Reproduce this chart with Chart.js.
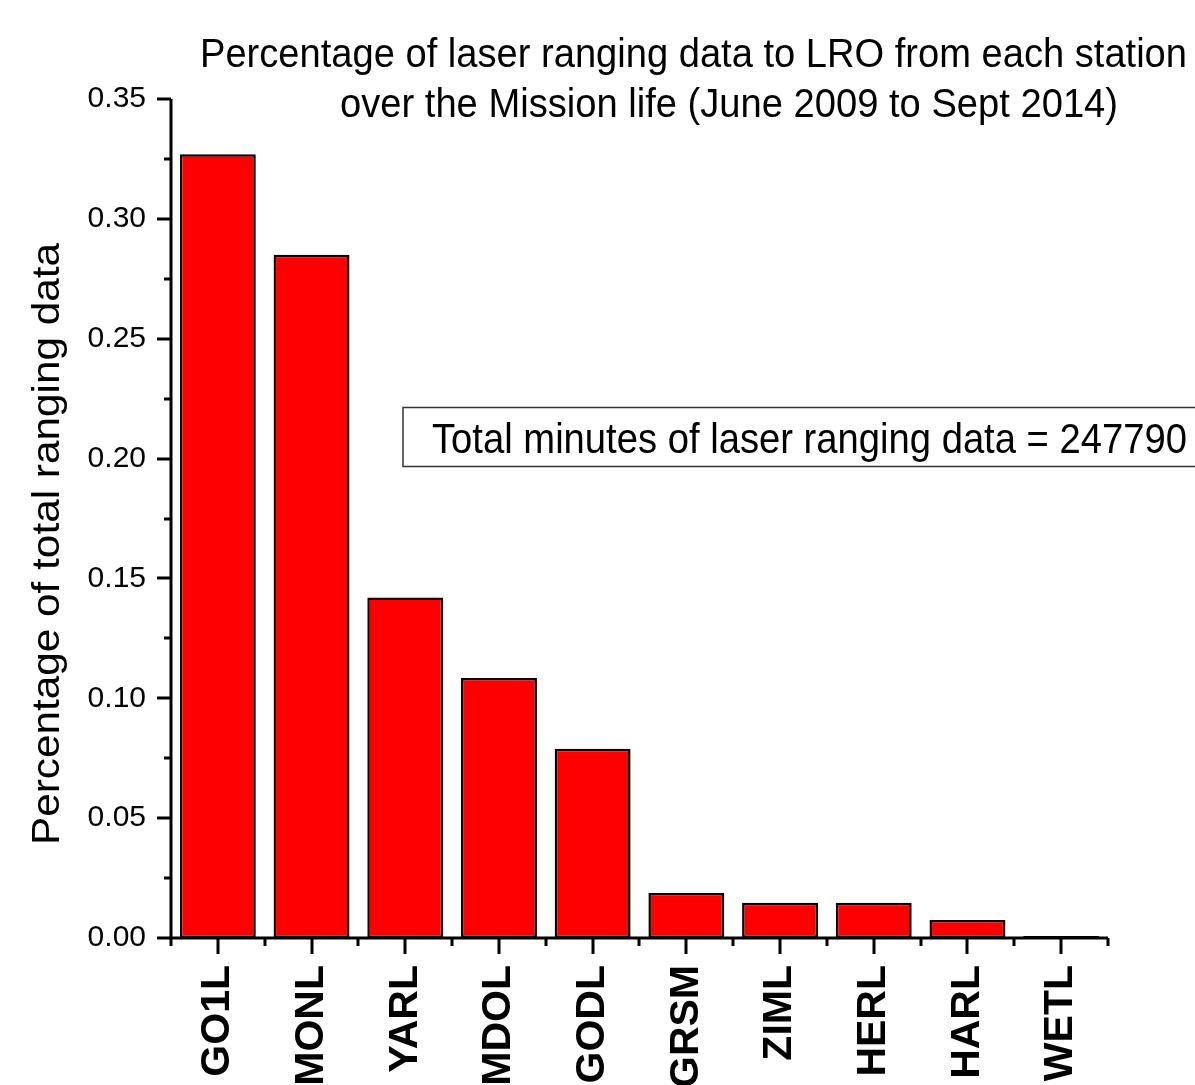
<!DOCTYPE html>
<html>
<head>
<meta charset="utf-8">
<script src="https://cdn.jsdelivr.net/npm/chart.js@4.4.1/dist/chart.umd.min.js"></script>
<style>
    html, body { margin: 0; padding: 0; background: #fff; }
    #wrap { width: 1195px; height: 1085px; position: relative; }
</style>
</head>
<body>
<div id="wrap"><canvas id="myChart"></canvas></div>
<script>
// data
var stations = ['GO1L', 'MONL', 'YARL', 'MDOL', 'GODL', 'GRSM', 'ZIML', 'HERL', 'HARL', 'WETL'];
var shares = [0.327, 0.285, 0.142, 0.1085, 0.079, 0.0188, 0.0147, 0.0147, 0.0075, 0.0008];
var yMin = 0, yMax = 0.35, yStep = 0.05;
var titleLines = ['Percentage of laser ranging data to LRO from each station',
                  'over the Mission life (June 2009 to Sept 2014)'];
var yTitle = 'Percentage of total ranging data';
var noteText = 'Total minutes of laser ranging data = 247790';

var FONT = '"Liberation Sans Narrow", "Arial Narrow", "Liberation Sans", Arial, sans-serif';

// text squeezed to the width it has in the picture
function fitText(ctx, txt, x, y, w, size) {
    ctx.save();
    ctx.font = size + 'px ' + FONT;
    var m = ctx.measureText(txt).width;
    ctx.translate(x, y);
    ctx.scale(w / m, 1);
    ctx.fillText(txt, 0, 0);
    ctx.restore();
}

var extras = {
    id: 'extras',
    afterDraw: function (chart) {
        var ctx = chart.ctx;
        var xs = chart.scales.x, ys = chart.scales.y;
        var area = chart.chartArea;
        ctx.save();
        ctx.fillStyle = '#000';
        ctx.textBaseline = 'alphabetic';
        ctx.textAlign = 'left';

        // title
        fitText(ctx, titleLines[0], 200, 67, 987, 40);
        fitText(ctx, titleLines[1], 340, 117, 778, 40);

        // y axis title
        ctx.save();
        ctx.translate(59, 845);
        ctx.rotate(-Math.PI / 2);
        fitText(ctx, yTitle, 0, 0, 602, 38);
        ctx.restore();

        // note box
        ctx.strokeStyle = '#333';
        ctx.lineWidth = 1.5;
        ctx.strokeRect(403, 407.5, 820, 59);
        fitText(ctx, noteText, 432, 453, 755, 42);

        // axes
        ctx.strokeStyle = '#000';
        ctx.lineWidth = 3;
        ctx.beginPath();
        ctx.moveTo(area.left, area.top);
        ctx.lineTo(area.left, area.bottom);
        ctx.lineTo(area.right, area.bottom);
        ctx.stroke();

        // y ticks, major + minor
        ctx.beginPath();
        for (var v = yMin; v <= yMax + 1e-9; v += yStep / 2) {
            var py = Math.round(ys.getPixelForValue(v));
            var major = Math.abs(v / yStep - Math.round(v / yStep)) < 1e-6;
            ctx.moveTo(area.left, py);
            ctx.lineTo(area.left - (major ? 14 : 7), py);
        }
        ctx.stroke();

        // x ticks: major at centres, minor at bar boundaries
        ctx.beginPath();
        for (var i = 0; i < stations.length; i++) {
            var cx = Math.round(xs.getPixelForValue(i));
            ctx.moveTo(cx, area.bottom);
            ctx.lineTo(cx, area.bottom + 16);
        }
        var half = (xs.getPixelForValue(1) - xs.getPixelForValue(0)) / 2;
        for (var j = 0; j <= stations.length; j++) {
            var bx = Math.round(xs.getPixelForValue(0) - half + j * half * 2);
            ctx.moveTo(bx, area.bottom);
            ctx.lineTo(bx, area.bottom + 8);
        }
        ctx.stroke();
        ctx.restore();
    }
};

var ctx = document.getElementById('myChart').getContext('2d');
var myChart = new Chart(ctx, {
    type: 'bar',
    data: {
        labels: stations,
        datasets: [{
            label: 'Share',
            data: shares,
            backgroundColor: '#ff0000',
            borderColor: '#000',
            borderWidth: 2.5,
            borderSkipped: false,
            categoryPercentage: 1,
            barPercentage: 0.81
        }]
    },
    options: {
        responsive: true,
        maintainAspectRatio: false,
        animation: false,
        devicePixelRatio: 1,
        layout: { padding: { top: 99, right: 87, left: 0, bottom: 0 } },
        plugins: {
            legend: { display: false },
            title: { display: false },
            tooltip: { enabled: false }
        },
        scales: {
            x: {
                offset: true,
                grid: { display: false },
                border: { display: false },
                ticks: {
                    autoSkip: false,
                    maxRotation: 90,
                    minRotation: 90,
                    padding: 19,
                    color: '#000',
                    font: { family: '"Liberation Sans", Arial, sans-serif', size: 41, weight: 'bold' }
                },
                afterFit: function (s) { s.height = 147; }
            },
            y: {
                min: yMin,
                max: yMax,
                grid: { display: false },
                border: { display: false },
                ticks: {
                    stepSize: yStep,
                    padding: 17,
                    color: '#000',
                    font: { family: '"Liberation Sans", Arial, sans-serif', size: 30 },
                    callback: function (v) { return v.toFixed(2); }
                },
                afterFit: function (s) { s.width = 171; }
            }
        }
    },
    plugins: [extras]
});
</script>
</body>
</html>
